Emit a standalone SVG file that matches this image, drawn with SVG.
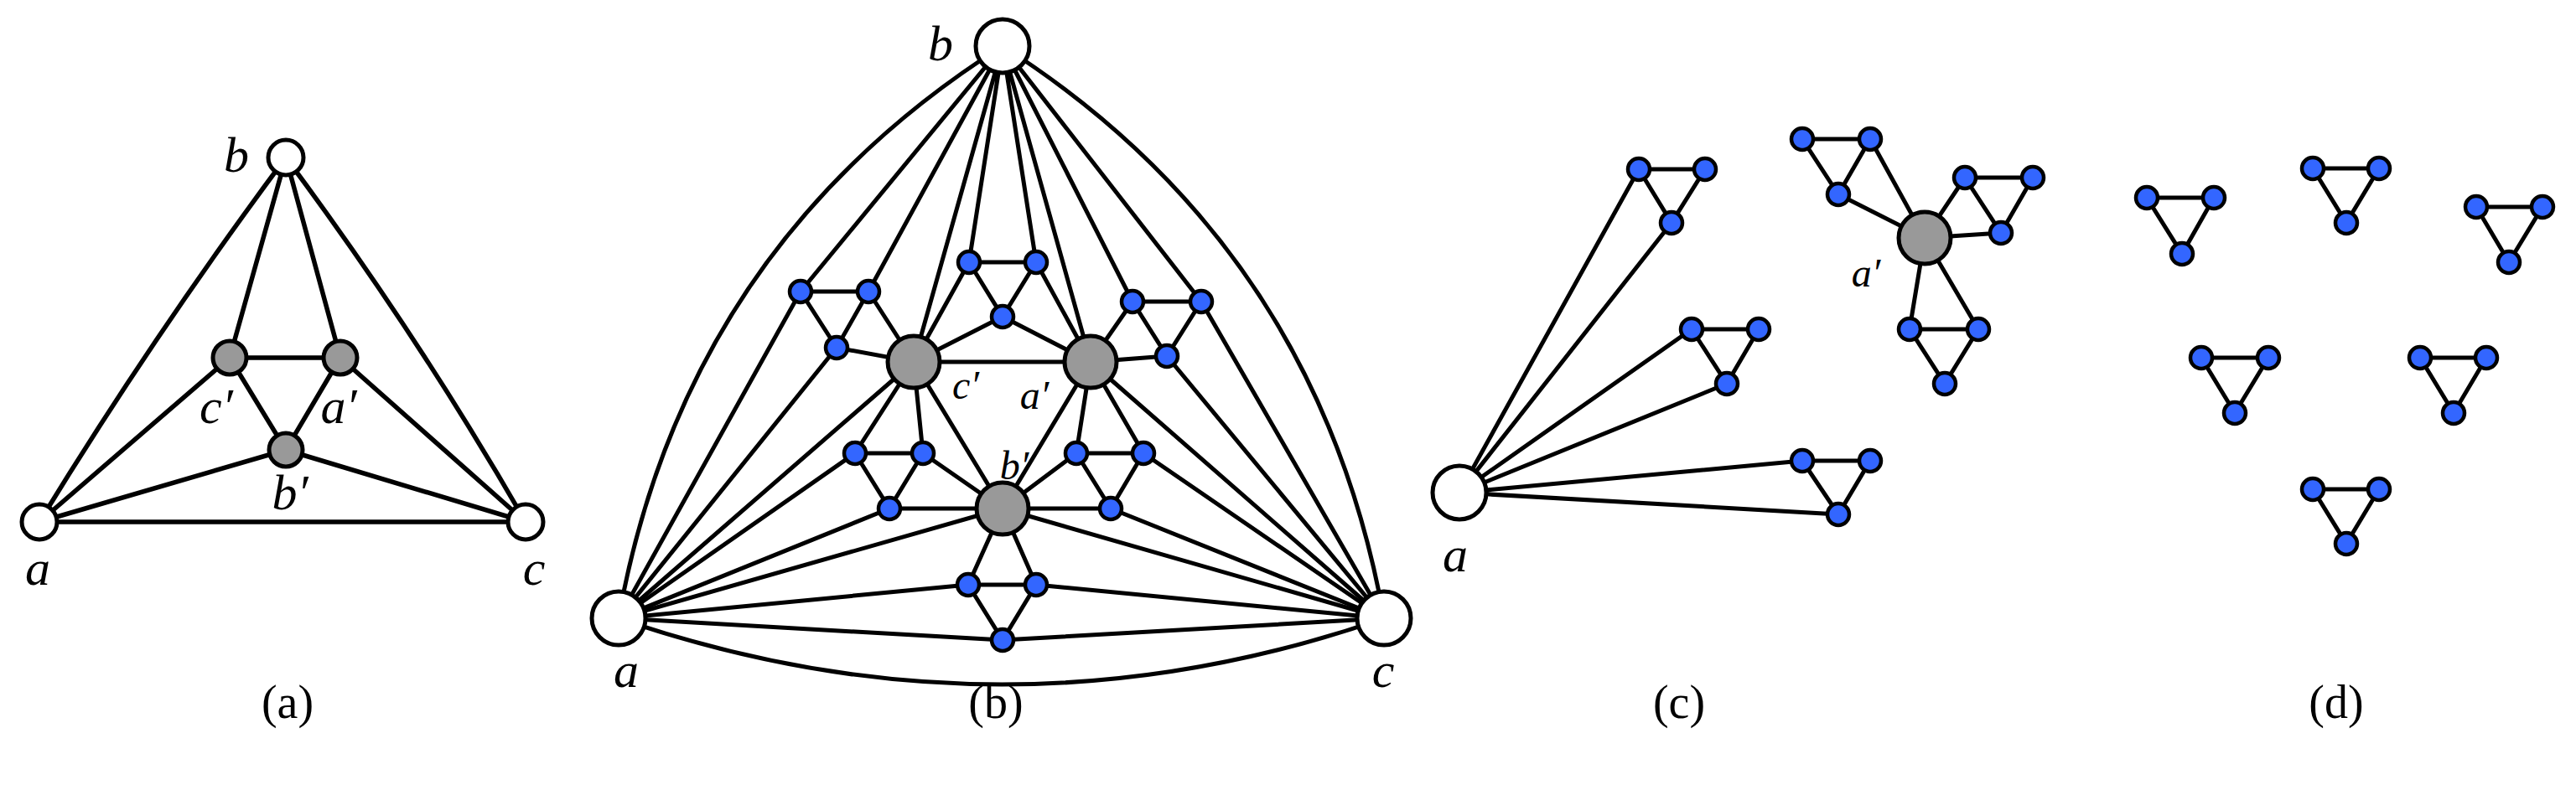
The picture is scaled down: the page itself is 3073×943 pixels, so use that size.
<svg xmlns="http://www.w3.org/2000/svg" width="3073" height="943" viewBox="0 0 3073 943">
<style>
.e{stroke:#000;fill:none;stroke-width:5}
.w{fill:#fff;stroke:#000;stroke-width:5}
.g{fill:#999;stroke:#000;stroke-width:5}
.u{fill:#3366ff;stroke:#000;stroke-width:4.5}
.l{font-family:"Liberation Serif",serif;font-style:italic;font-size:60px;text-anchor:middle}
.s{font-family:"Liberation Serif",serif;font-style:italic;font-size:48px;text-anchor:middle}
.c{font-family:"Liberation Serif",serif;font-size:56px;text-anchor:middle}
</style>
<rect width="3073" height="943" fill="#fff"/>
<!-- panel a -->
<g id="edges-a" class="e" style="stroke-width:5.5">
<path d="M47,623 Q184,399 341,188"/><path d="M627,623 Q498,399 341,188"/>
<path d="M341,188 L274,427 M341,188 L406,427 M274,427 L406,427 M274,427 L341,537 M406,427 L341,537 M47,623 L274,427 M47,623 L341,537 M627,623 L406,427 M627,623 L341,537 M47,623 L627,623"/>
</g>
<g id="a-b"><circle class="w" cx="341" cy="188" r="21"/><text class="l" x="282" y="205">b</text></g>
<g id="a-a"><circle class="w" cx="47" cy="623" r="21"/><text class="l" x="45" y="698">a</text></g>
<g id="a-c"><circle class="w" cx="627" cy="623" r="21"/><text class="l" x="637" y="698">c</text></g>
<g id="a-cp"><circle class="g" cx="274" cy="427" r="20"/><text class="l" x="258" y="505">c′</text></g>
<g id="a-ap"><circle class="g" cx="406" cy="427" r="20"/><text class="l" x="404" y="505">a′</text></g>
<g id="a-bp"><circle class="g" cx="341" cy="537" r="20"/><text class="l" x="346" y="608">b′</text></g>
<!-- panel b -->
<g id="edges-b" class="e">
<path d="M738,738 Q817,295 1196,55 M1651,738 Q1572,295 1196,55 M738,738 Q1196,896 1651,738"/>
<path d="M1196,55 L955,348 M1196,55 L1036,348 M1196,55 L1090,432 M1196,55 L1156,313 M1196,55 L1236,313 M1196,55 L1301,432 M1196,55 L1351,360 M1196,55 L1433,360"/>
<path d="M955,348 L1036,348 L998,415 Z M1036,348 L1090,432 M998,415 L1090,432 M955,348 L738,738 M998,415 L738,738"/>
<path d="M1156,313 L1236,313 L1196,378 Z M1156,313 L1090,432 M1196,378 L1090,432 M1196,378 L1301,432 M1236,313 L1301,432"/>
<path d="M1351,360 L1433,360 L1392,425 Z M1351,360 L1301,432 M1392,425 L1301,432 M1433,360 L1651,738 M1392,425 L1651,738"/>
<path d="M1090,432 L1301,432 M1090,432 L1196,607 M1301,432 L1196,607 M1090,432 L738,738 M1301,432 L1651,738"/>
<path d="M1020,541 L1101,541 L1061,607 Z M1020,541 L1090,432 M1101,541 L1090,432 M1020,541 L738,738 M1061,607 L738,738 M1061,607 L1196,607 M1101,541 L1196,607"/>
<path d="M1284,541 L1364,541 L1325,607 Z M1284,541 L1301,432 M1364,541 L1301,432 M1364,541 L1651,738 M1325,607 L1651,738 M1325,607 L1196,607 M1284,541 L1196,607"/>
<path d="M1196,607 L738,738 M1196,607 L1651,738"/>
<path d="M1155,698 L1236,698 L1196,764 Z M1155,698 L1196,607 M1236,698 L1196,607 M1155,698 L738,738 M1196,764 L738,738 M1236,698 L1651,738 M1196,764 L1651,738"/>
</g>
<g id="b-b"><circle class="w" cx="1196" cy="55" r="32"/><text class="l" x="1122" y="72">b</text></g>
<g id="b-a"><circle class="w" cx="738" cy="738" r="32"/><text class="l" x="747" y="820">a</text></g>
<g id="b-c"><circle class="w" cx="1651" cy="738" r="32"/><text class="l" x="1650" y="820">c</text></g>
<g id="b-cp"><circle class="g" cx="1090" cy="432" r="31"/><text class="s" x="1152" y="476">c′</text></g>
<g id="b-ap"><circle class="g" cx="1301" cy="432" r="31"/><text class="s" x="1234" y="488">a′</text></g>
<g id="b-bp"><circle class="g" cx="1196" cy="607" r="31"/><text class="s" x="1210" y="572">b′</text></g>
<g id="b-blue">
<circle class="u" cx="955" cy="348" r="13"/><circle class="u" cx="1036" cy="348" r="13"/><circle class="u" cx="998" cy="415" r="13"/>
<circle class="u" cx="1156" cy="313" r="13"/><circle class="u" cx="1236" cy="313" r="13"/><circle class="u" cx="1196" cy="378" r="13"/>
<circle class="u" cx="1351" cy="360" r="13"/><circle class="u" cx="1433" cy="360" r="13"/><circle class="u" cx="1392" cy="425" r="13"/>
<circle class="u" cx="1020" cy="541" r="13"/><circle class="u" cx="1101" cy="541" r="13"/><circle class="u" cx="1061" cy="607" r="13"/>
<circle class="u" cx="1284" cy="541" r="13"/><circle class="u" cx="1364" cy="541" r="13"/><circle class="u" cx="1325" cy="607" r="13"/>
<circle class="u" cx="1155" cy="698" r="13"/><circle class="u" cx="1236" cy="698" r="13"/><circle class="u" cx="1196" cy="764" r="13"/>
</g>
<!-- panel c -->
<g id="edges-c" class="e">
<path d="M1955,202 L2034,202 L1994,266 Z M2018,393 L2098,393 L2060,458 Z M2150,550 L2231,550 L2193,614 Z"/>
<path d="M1741,588 L1955,202 M1741,588 L1994,266 M1741,588 L2018,393 M1741,588 L2060,458 M1741,588 L2150,550 M1741,588 L2193,614"/>
<path d="M2150,166 L2231,166 L2193,232 Z M2344,212 L2425,212 L2387,278 Z M2278,393 L2360,393 L2320,458 Z"/>
<path d="M2296,284 L2193,232 M2296,284 L2231,166 M2296,284 L2344,212 M2296,284 L2387,278 M2296,284 L2278,393 M2296,284 L2360,393"/>
</g>
<g id="c-a"><circle class="w" cx="1741" cy="588" r="32"/><text class="l" x="1736" y="682">a</text></g>
<g id="c-ap"><circle class="g" cx="2296" cy="284" r="31"/><text class="s" x="2226" y="342">a′</text></g>
<g id="c-blue">
<circle class="u" cx="1955" cy="202" r="13"/><circle class="u" cx="2034" cy="202" r="13"/><circle class="u" cx="1994" cy="266" r="13"/>
<circle class="u" cx="2018" cy="393" r="13"/><circle class="u" cx="2098" cy="393" r="13"/><circle class="u" cx="2060" cy="458" r="13"/>
<circle class="u" cx="2150" cy="550" r="13"/><circle class="u" cx="2231" cy="550" r="13"/><circle class="u" cx="2193" cy="614" r="13"/>
<circle class="u" cx="2150" cy="166" r="13"/><circle class="u" cx="2231" cy="166" r="13"/><circle class="u" cx="2193" cy="232" r="13"/>
<circle class="u" cx="2344" cy="212" r="13"/><circle class="u" cx="2425" cy="212" r="13"/><circle class="u" cx="2387" cy="278" r="13"/>
<circle class="u" cx="2278" cy="393" r="13"/><circle class="u" cx="2360" cy="393" r="13"/><circle class="u" cx="2320" cy="458" r="13"/>
</g>
<!-- panel d -->
<g id="edges-d" class="e">
<path d="M2561,236 L2641,236 L2603,303 Z M2759,201 L2838,201 L2799,266 Z M2954,247 L3033,247 L2993,313 Z M2626,427 L2706,427 L2666,493 Z M2887,427 L2966,427 L2927,493 Z M2759,584 L2838,584 L2799,649 Z"/>
</g>
<g id="d-blue">
<circle class="u" cx="2561" cy="236" r="13"/><circle class="u" cx="2641" cy="236" r="13"/><circle class="u" cx="2603" cy="303" r="13"/>
<circle class="u" cx="2759" cy="201" r="13"/><circle class="u" cx="2838" cy="201" r="13"/><circle class="u" cx="2799" cy="266" r="13"/>
<circle class="u" cx="2954" cy="247" r="13"/><circle class="u" cx="3033" cy="247" r="13"/><circle class="u" cx="2993" cy="313" r="13"/>
<circle class="u" cx="2626" cy="427" r="13"/><circle class="u" cx="2706" cy="427" r="13"/><circle class="u" cx="2666" cy="493" r="13"/>
<circle class="u" cx="2887" cy="427" r="13"/><circle class="u" cx="2966" cy="427" r="13"/><circle class="u" cx="2927" cy="493" r="13"/>
<circle class="u" cx="2759" cy="584" r="13"/><circle class="u" cx="2838" cy="584" r="13"/><circle class="u" cx="2799" cy="649" r="13"/>
</g>
<g id="captions">
<text class="c" x="343" y="857">(a)</text><text class="c" x="1188" y="857">(b)</text><text class="c" x="2003" y="857">(c)</text><text class="c" x="2787" y="857">(d)</text>
</g>
</svg>
